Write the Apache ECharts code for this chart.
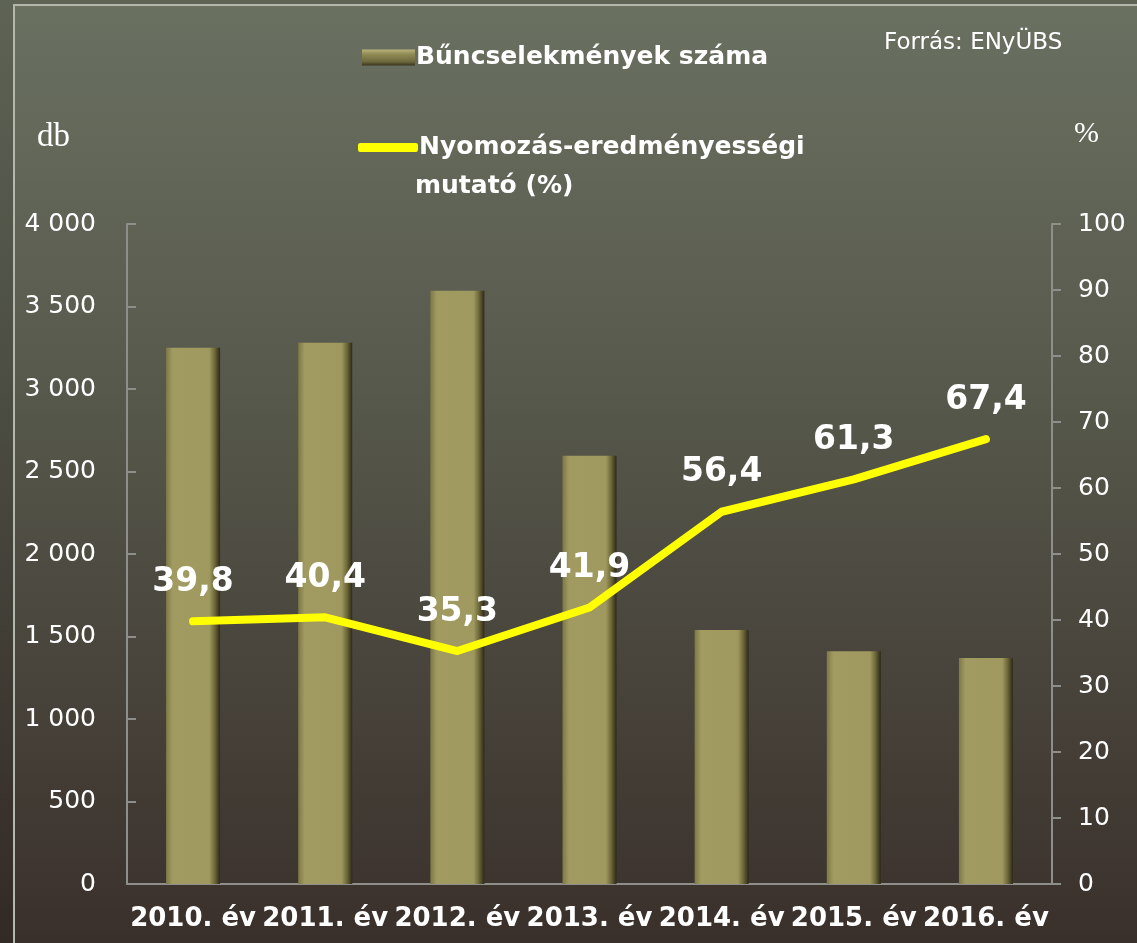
<!DOCTYPE html>
<html>
<head>
<meta charset="utf-8">
<script src="https://cdn.jsdelivr.net/npm/echarts@6/dist/echarts.min.js"></script>
<style>
  html, body { margin: 0; padding: 0; }
  #main { width: 1137px; height: 943px; }
</style>
</head>
<body>
<div id="main"></div>
<script>
// adatok
var evek = ['2010. év', '2011. év', '2012. év', '2013. év', '2014. év', '2015. év', '2016. év'];
var buncselekmenyek = [3250, 3280, 3595, 2595, 1540, 1410, 1370];
var eredmenyesseg = [39.8, 40.4, 35.3, 41.9, 56.4, 61.3, 67.4];
var nevBar = 'Bűncselekmények száma';
var nevLine = 'Nyomozás-eredményességi mutató (%)';

var chart = echarts.init(document.getElementById('main'));

var barColor = new echarts.graphic.LinearGradient(0, 0, 1, 0, [
  { offset: 0, color: '#7d7846' },
  { offset: 0.12, color: '#a19b62' },
  { offset: 0.8, color: '#9f9960' },
  { offset: 0.9, color: '#6e6839' },
  { offset: 1, color: '#2c2817' }
]);

var option = {
  backgroundColor: new echarts.graphic.LinearGradient(0, 0, 0, 1, [
    { offset: 0, color: '#6a7161' },
    { offset: 0.45, color: '#55564a' },
    { offset: 1, color: '#3a302b' }
  ]),
  textStyle: { fontFamily: 'DejaVu Sans', color: '#fff' },
  legend: [{
    data: [{ name: nevBar, icon: 'rect' }],
    left: 357,
    top: 40,
    itemWidth: 53,
    itemHeight: 16,
    itemGap: 0,
    itemStyle: {
      color: new echarts.graphic.LinearGradient(0, 0, 0, 1, [
        { offset: 0, color: '#b9b27a' },
        { offset: 0.3, color: '#8f8a55' },
        { offset: 0.75, color: '#6f6a3e' },
        { offset: 1, color: '#3a3520' }
      ])
    },
    textStyle: { color: '#fff', fontSize: 25, fontWeight: 'bold', padding: [0, 0, 0, -4] },
    selectedMode: false
  }, {
    data: [{ name: nevLine, icon: 'roundRect' }],
    left: 353,
    top: 130,
    itemWidth: 60,
    itemHeight: 9,
    textStyle: { color: '#fff', fontSize: 25, fontWeight: 'bold', padding: [0, 0, 0, -4] },
    formatter: function () { return 'Nyomozás-eredményességi'; },
    selectedMode: false
  }],
  grid: { left: 127, right: 85, top: 224, bottom: 59 },
  xAxis: {
    type: 'category',
    data: evek,
    axisLine: { lineStyle: { color: '#8e8e8a', width: 2 } },
    axisTick: { show: false },
    axisLabel: { color: '#fff', fontSize: 26, fontWeight: 'bold', margin: 22, interval: 0 }
  },
  yAxis: [{
    type: 'value',
    min: 0,
    max: 4000,
    interval: 500,
    name: 'db',
    nameLocation: 'end',
    nameGap: 70,
    nameTextStyle: { fontFamily: 'Liberation Serif', fontSize: 33, color: '#fff', align: 'right', padding: [0, 57, 0, 0] },
    axisLine: { show: true, lineStyle: { color: '#8e8e8a', width: 2 } },
    axisTick: { show: true, inside: true, length: 9, lineStyle: { color: '#8e8e8a', width: 2 } },
    axisLabel: {
      color: '#fff', fontSize: 25, margin: 31,
      formatter: function (v) { return String(v).replace(/\B(?=(\d{3})+(?!\d))/g, ' '); }
    },
    splitLine: { show: false }
  }, {
    type: 'value',
    min: 0,
    max: 100,
    interval: 10,
    name: '%',
    nameLocation: 'end',
    nameGap: 75,
    nameTextStyle: { fontFamily: 'Liberation Serif', fontSize: 30, color: '#fff', align: 'left', padding: [0, 0, 0, 22] },
    axisLine: { show: true, lineStyle: { color: '#8e8e8a', width: 2 } },
    axisTick: { show: true, length: 9, lineStyle: { color: '#8e8e8a', width: 2 } },
    axisLabel: { color: '#fff', fontSize: 25, margin: 26 },
    splitLine: { show: false }
  }],
  series: [{
    name: nevBar,
    type: 'bar',
    data: buncselekmenyek,
    barWidth: 54,
    itemStyle: { color: barColor }
  }, {
    name: nevLine,
    type: 'line',
    yAxisIndex: 1,
    data: eredmenyesseg,
    symbol: 'circle',
    symbolSize: 1,
    showSymbol: true,
    lineStyle: { color: '#ffff00', width: 8, cap: 'round', join: 'round' },
    itemStyle: { color: '#ffff00' },
    label: {
      show: true,
      position: 'top',
      distance: 22,
      color: '#fff',
      fontSize: 33,
      fontWeight: 'bold',
      formatter: function (p) { return String(p.value).replace('.', ','); }
    }
  }],
  graphic: [{
    type: 'rect',
    shape: { x: 0, y: 0, width: 13, height: 943 },
    style: { fill: 'rgba(0,0,0,0.12)' },
    silent: true
  }, {
    type: 'rect',
    shape: { x: 13, y: 0, width: 1124, height: 4 },
    style: { fill: 'rgba(0,0,0,0.12)' },
    silent: true
  }, {
    type: 'polyline',
    shape: { points: [[14, 943], [14, 5], [1137, 5]] },
    style: { stroke: '#b4b8ac', lineWidth: 2, fill: null },
    silent: true
  }, {
    type: 'text',
    left: 884,
    top: 32,
    style: { text: 'Forrás: ENyÜBS', fill: '#fff', fontSize: 23, fontFamily: 'DejaVu Sans' }
  }, {
    type: 'text',
    left: 415,
    top: 174,
    style: { text: 'mutató (%)', fill: '#fff', fontSize: 25, fontWeight: 'bold', fontFamily: 'DejaVu Sans' }
  }]
};

chart.setOption(option);
</script>
</body>
</html>
